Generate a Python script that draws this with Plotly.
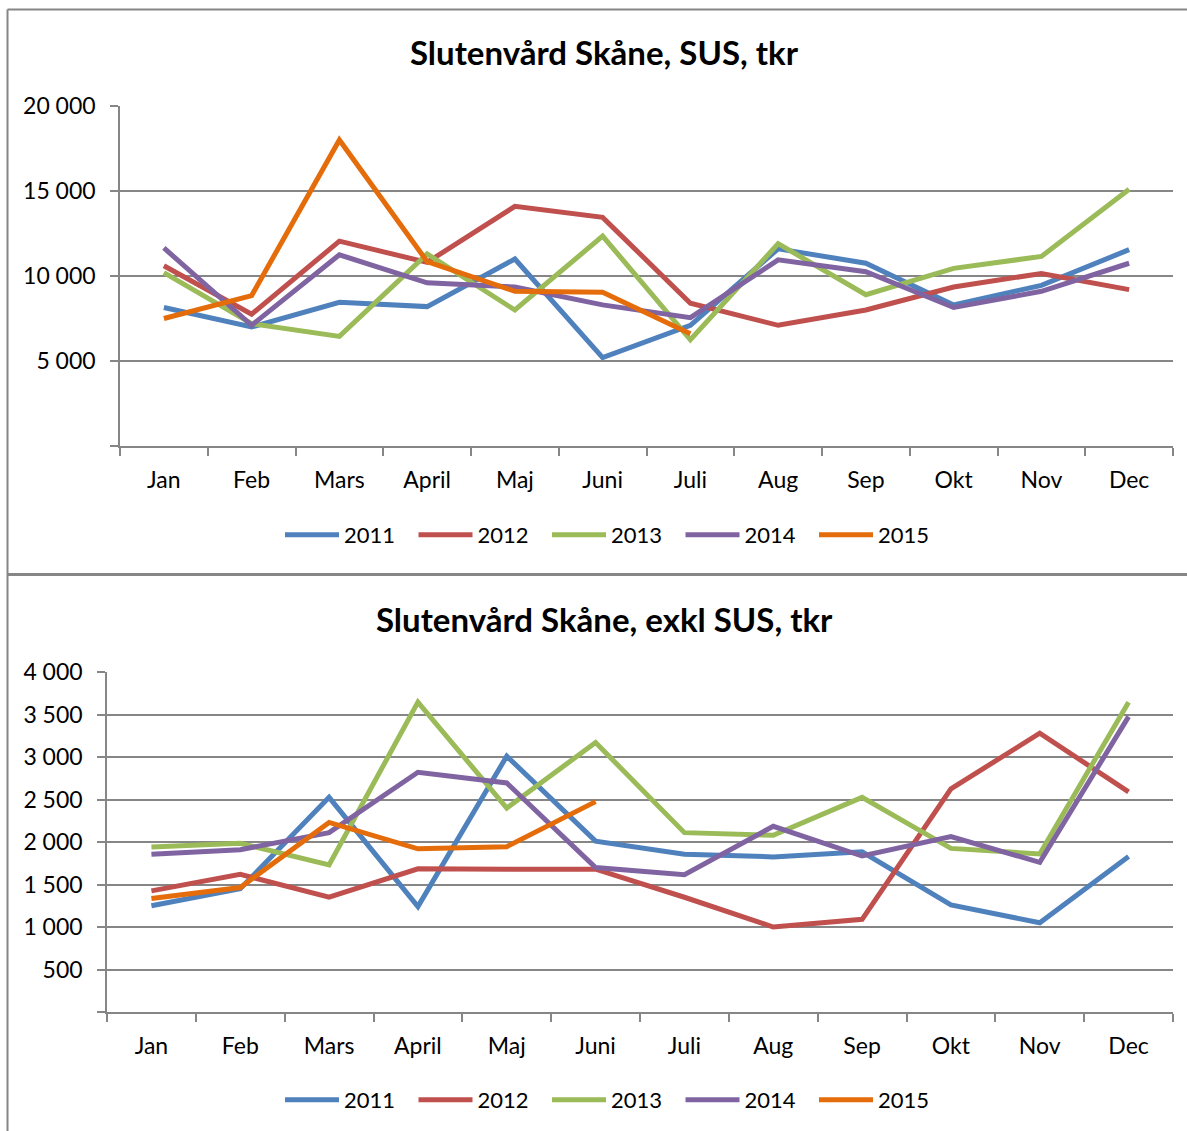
import plotly.graph_objects as go

# ---------------- data ----------------
months = ["Jan", "Feb", "Mars", "April", "Maj", "Juni", "Juli", "Aug", "Sep", "Okt", "Nov", "Dec"]
years = ["2011", "2012", "2013", "2014", "2015"]
colors = ["#4F81BD", "#C0504D", "#9BBB59", "#8064A2", "#E46C0A"]

sus_2011 = [8150, 7000, 8450, 8200, 11000, 5200, 7100, 11600, 10750, 8300, 9450, 11550]
sus_2012 = [10600, 7750, 12050, 10800, 14100, 13450, 8400, 7100, 8000, 9350, 10150, 9200]
sus_2013 = [10200, 7200, 6450, 11300, 8000, 12350, 6250, 11900, 8900, 10450, 11150, 15100]
sus_2014 = [11650, 7100, 11250, 9600, 9350, 8300, 7550, 10950, 10250, 8150, 9100, 10750]
sus_2015 = [7500, 8850, 18000, 10850, 9100, 9050, 6600]

exkl_2011 = [1250, 1450, 2525, 1240, 3010, 2010, 1855, 1825, 1885, 1260, 1050, 1830]
exkl_2012 = [1425, 1620, 1350, 1685, 1680, 1680, 1350, 1000, 1090, 2625, 3280, 2590]
exkl_2013 = [1940, 1985, 1730, 3645, 2400, 3170, 2110, 2080, 2525, 1925, 1860, 3645]
exkl_2014 = [1855, 1910, 2110, 2820, 2695, 1700, 1615, 2185, 1835, 2065, 1760, 3475]
exkl_2015 = [1335, 1465, 2230, 1920, 1945, 2475]

title_top = "Slutenvård Skåne, SUS, tkr"
title_bottom = "Slutenvård Skåne, exkl SUS, tkr"

top_ticks = [0, 5000, 10000, 15000, 20000]
top_ticktext = ["", "5 000", "10 000", "15 000", "20 000"]
bot_ticks = [0, 500, 1000, 1500, 2000, 2500, 3000, 3500, 4000]
bot_ticktext = ["", "500", "1 000", "1 500", "2 000", "2 500", "3 000", "3 500", "4 000"]

sus_series = [sus_2011, sus_2012, sus_2013, sus_2014, sus_2015]
exkl_series = [exkl_2011, exkl_2012, exkl_2013, exkl_2014, exkl_2015]

# ---------------- figure ----------------
W, H = 1187, 1131
GRAY = "#868686"
FONT = "Lato"

fig = go.Figure()

for yr, col, vals in zip(years, colors, sus_series):
    fig.add_trace(go.Scatter(
        x=months[:len(vals)], y=vals, name=yr, mode="lines",
        line=dict(color=col, width=5), xaxis="x", yaxis="y", legend="legend",
        hoverinfo="skip",
    ))
for yr, col, vals in zip(years, colors, exkl_series):
    fig.add_trace(go.Scatter(
        x=months[:len(vals)], y=vals, name=yr, mode="lines",
        line=dict(color=col, width=5), xaxis="x2", yaxis="y2", legend="legend2",
        hoverinfo="skip",
    ))

def px(x):
    return x / W

def py(y):
    return 1 - y / H

xcommon = dict(
    type="category", categoryorder="array", categoryarray=months,
    range=[-0.5, 11.5], tickson="boundaries", ticks="outside", ticklen=8,
    tickcolor=GRAY, tickwidth=1.5, showline=True, linecolor=GRAY, linewidth=1.5,
    showgrid=False, zeroline=False, tickfont=dict(family=FONT, size=23, color="#000"),
    ticklabelstandoff=13, fixedrange=True, automargin=False,
)
ycommon = dict(
    ticks="outside", ticklen=8, tickcolor=GRAY, tickwidth=1.5, showline=True,
    linecolor=GRAY, linewidth=1.5, showgrid=True, gridcolor=GRAY, gridwidth=1.5,
    zeroline=False, tickfont=dict(family=FONT, size=23, color="#000"),
    ticklabelstandoff=10, fixedrange=True, automargin=False,
)

legcommon = dict(
    orientation="h", font=dict(family=FONT, size=22, color="#000"),
    bgcolor="rgba(0,0,0,0)", itemwidth=54, xanchor="left", yanchor="middle",
    entrywidth=64.5, entrywidthmode="pixels", tracegroupgap=0,
    itemclick=False, itemdoubleclick=False,
)

fig.update_layout(
    width=W, height=H,
    margin=dict(l=0, r=0, t=0, b=0, pad=0, autoexpand=False),
    paper_bgcolor="white", plot_bgcolor="white",
    separators=", ",
    font=dict(family=FONT, size=22, color="#000"),
    xaxis=dict(domain=[px(120), px(1173)], anchor="y", **xcommon),
    yaxis=dict(domain=[py(446), py(106)], anchor="x", range=[0, 20000],
               tickvals=top_ticks, ticktext=top_ticktext, **ycommon),
    xaxis2=dict(domain=[px(107), px(1173)], anchor="y2", **xcommon),
    yaxis2=dict(domain=[py(1012), py(672)], anchor="x2", range=[0, 4000],
                tickvals=bot_ticks, ticktext=bot_ticktext, **ycommon),
    legend=dict(x=px(280), y=py(535), **legcommon),
    legend2=dict(x=px(280), y=py(1100), **legcommon),
    showlegend=True,
    hovermode=False,
    annotations=[
        dict(text="<b>" + title_top + "</b>", x=px(605), y=py(52), xref="paper", yref="paper",
             xanchor="center", yanchor="middle", showarrow=False,
             font=dict(family=FONT, size=33, color="#000")),
        dict(text="<b>" + title_bottom + "</b>", x=px(605), y=py(619), xref="paper", yref="paper",
             xanchor="center", yanchor="middle", showarrow=False,
             font=dict(family=FONT, size=33, color="#000")),
    ],
    shapes=[
        # chart frames
        dict(type="line", xref="paper", yref="paper", x0=px(7.5), x1=1.02, y0=py(9.5), y1=py(9.5),
             line=dict(color=GRAY, width=2)),
        dict(type="line", xref="paper", yref="paper", x0=px(7.5), x1=px(7.5), y0=py(9.5), y1=-0.02,
             line=dict(color=GRAY, width=2)),
        dict(type="line", xref="paper", yref="paper", x0=px(7.5), x1=1.02, y0=py(574.5), y1=py(574.5),
             line=dict(color=GRAY, width=3)),
    ],
)

fig.write_html(
    "out.html",
    config={"displayModeBar": False},
    post_script="document.body.style.margin='0';document.body.style.overflow='hidden';",
)
